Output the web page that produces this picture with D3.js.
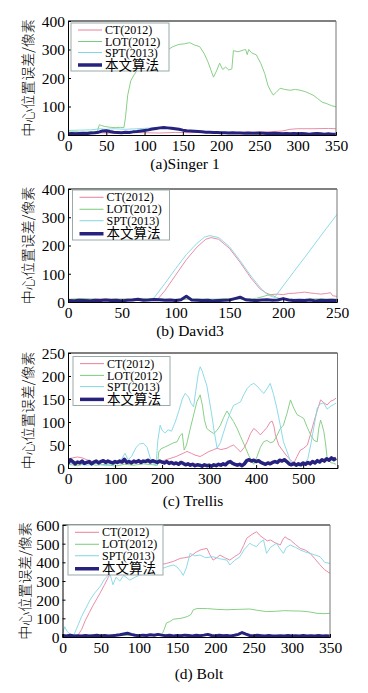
<!DOCTYPE html>
<html>
<head>
<meta charset="utf-8">
<script src="https://cdn.jsdelivr.net/npm/d3@7/dist/d3.min.js"></script>
<style>
	body { margin: 0; background: #fff; }
	svg { display: block; }
</style>
</head>
<body>
<svg id="chartArea" width="368" height="693"></svg>
<script>
// legend names
var methods = ["CT(2012)", "LOT(2012)", "SPT(2013)", "本文算法"];
var yLabel = "中心位置误差/像素";

// (a) Singer 1 : [frame, error]
var singerCT = [[0,8],[20,6],[40,8],[60,6],[80,9],[100,8],[120,7],[140,9],[160,8],[180,10],[200,8],[220,9],[240,10],[260,11],[280,14],[290,20],[300,22],[320,22],[340,23],[350,22]];
var singerLOT = [[0,10],[10,11],[20,9],[30,12],[38,11],[41,36],[44,33],[48,30],[55,27],[62,26],[68,27],[73,26],[75,60],[78,140],[82,190],[86,210],[95,245],[105,265],[115,280],[122,288],[130,298],[137,310],[145,318],[152,320],[159,324],[165,316],[172,310],[178,285],[183,255],[187,225],[190,203],[194,225],[198,252],[202,230],[206,238],[210,228],[214,232],[216,296],[222,292],[229,298],[232,300],[234,282],[236,300],[240,288],[246,281],[252,250],[257,215],[261,175],[264,158],[268,140],[272,150],[277,164],[283,160],[290,157],[297,160],[303,157],[310,152],[315,146],[320,140],[326,128],[332,115],[338,110],[344,103],[350,99]];
var singerSPT = [[0,16],[15,17],[30,18],[42,22],[50,20],[60,22],[75,20],[90,22],[105,24],[120,26],[135,24],[150,16],[170,12],[190,10],[220,9],[250,8],[280,8],[300,6],[320,5],[350,5]];
// ours, every 5 frames
var singerOurs = [4,5,4,5,6,5,7,8,10,14,15,12,10,9,8,10,9,11,12,14,16,18,21,23,25,26,25,24,22,20,17,15,14,13,12,11,10,10,9,9,8,8,7,8,7,7,6,7,6,6,7,6,5,5,6,5,4,5,4,5,4,5,4,3,4,5,4,3,4,3,3];

// (b) David3
var davidCT = [[0,8],[10,10],[20,9],[30,11],[40,10],[50,9],[60,11],[70,10],[80,9],[83,8],[90,40],[100,95],[110,150],[120,195],[128,222],[133,228],[140,222],[150,190],[160,140],[170,85],[178,48],[184,32],[188,26],[195,28],[200,26],[205,30],[210,31],[215,33],[220,35],[225,32],[230,30],[235,28],[240,30],[244,33],[246,22],[250,20]];
var davidLOT = [[0,10],[15,12],[30,9],[45,11],[60,10],[75,12],[90,10],[105,9],[120,11],[135,10],[150,12],[165,10],[175,13],[182,20],[186,25],[190,24],[194,15],[200,10],[215,9],[230,11],[250,10]];
var davidSPT = [[0,5],[20,6],[40,7],[60,6],[77,8],[80,15],[90,65],[100,118],[110,168],[120,208],[127,230],[132,235],[140,228],[150,196],[160,146],[170,92],[180,45],[186,24],[192,16],[200,57],[210,108],[220,158],[230,209],[240,260],[250,310]];
var davidOurs = [5,4,6,5,4,6,5,7,5,6,4,6,7,10,6,7,9,8,6,7,5,8,20,7,6,5,6,4,5,6,7,12,17,8,6,5,7,8,6,7,12,7,5,6,5,7,4,6,5,6,5];

// (c) Trellis
var trellisCT = [[0,20],[10,22],[20,24],[30,22],[40,18],[50,15],[60,13],[80,12],[100,10],[120,12],[140,11],[160,12],[180,13],[200,15],[215,20],[230,25],[245,32],[253,36],[262,32],[270,28],[281,25],[290,30],[298,35],[310,40],[317,43],[325,40],[338,43],[345,47],[352,50],[360,42],[367,35],[375,45],[381,57],[388,75],[395,86],[402,80],[409,72],[416,80],[423,88],[430,100],[434,102],[438,90],[441,72],[448,50],[455,40],[466,25],[473,18],[480,10],[487,25],[494,39],[500,42],[509,50],[516,75],[523,101],[530,125],[537,148],[544,142],[551,137],[558,145],[565,148],[570,152]];
var trellisLOT = [[0,8],[20,5],[40,10],[60,6],[80,8],[100,4],[120,8],[140,6],[160,9],[180,7],[190,6],[193,35],[198,42],[205,45],[215,50],[225,55],[232,57],[238,70],[243,75],[247,39],[252,50],[260,86],[267,115],[274,144],[281,159],[286,135],[290,105],[295,86],[302,80],[310,75],[317,82],[324,93],[331,110],[338,124],[345,112],[352,101],[360,85],[367,68],[375,50],[384,28],[390,15],[395,8],[402,25],[409,45],[416,57],[423,60],[430,55],[437,57],[444,70],[451,85],[458,93],[466,120],[473,148],[480,130],[487,116],[494,112],[501,108],[508,90],[516,72],[523,60],[530,57],[533,85],[537,104],[540,95],[544,79],[548,50],[551,20],[558,12],[565,10],[570,8]];
var trellisSPT = [[0,8],[20,12],[40,6],[60,10],[80,5],[100,8],[112,15],[121,32],[128,18],[135,25],[145,45],[152,52],[160,54],[168,45],[175,21],[182,8],[187,5],[191,60],[196,93],[200,82],[206,76],[213,83],[220,80],[228,100],[236,125],[243,150],[249,162],[256,155],[262,140],[267,133],[272,170],[277,205],[281,220],[285,212],[290,195],[295,180],[300,150],[305,120],[310,85],[317,43],[324,55],[330,75],[338,101],[345,120],[352,136],[360,140],[367,144],[374,160],[381,173],[388,180],[395,184],[402,178],[409,170],[416,162],[423,172],[430,184],[437,160],[444,130],[451,95],[458,57],[466,35],[473,14],[480,8],[490,5],[500,6],[510,20],[516,50],[523,90],[530,130],[537,140],[544,141],[551,128],[558,134],[565,138],[570,141]];
var trellisOurs = [10,18,14,9,13,11,15,10,12,14,9,13,15,11,14,16,12,15,13,11,14,12,15,13,19,12,14,11,15,13,16,12,15,14,17,13,16,14,12,15,13,11,14,10,12,9,11,8,12,10,7,9,6,8,5,7,6,4,7,5,6,4,7,5,8,6,9,7,12,14,10,8,6,8,5,9,16,18,15,17,14,16,12,10,8,11,9,12,14,12,17,15,18,14,9,7,10,6,9,7,11,8,12,9,14,11,16,13,18,15,20,17,22,18,21];

// (d) Bolt
var boltCT = [[0,12],[5,8],[10,15],[15,10],[20,8],[25,40],[30,90],[35,130],[40,170],[45,205],[49,234],[55,280],[60,320],[65,355],[75,341],[85,350],[101,359],[115,375],[125,385],[136,394],[145,405],[154,421],[160,425],[167,430],[175,455],[180,466],[189,475],[193,440],[197,412],[202,425],[206,439],[212,425],[219,412],[225,430],[232,448],[237,490],[241,529],[248,550],[254,564],[258,545],[263,529],[268,515],[272,520],[278,505],[285,493],[288,520],[291,537],[295,525],[298,520],[305,495],[311,475],[318,465],[324,448],[330,420],[337,386],[343,360],[350,341]];
var boltLOT = [[0,10],[20,8],[40,10],[60,9],[80,8],[100,10],[120,9],[130,12],[133,40],[136,75],[140,82],[145,95],[150,98],[155,100],[163,109],[168,120],[171,145],[176,153],[190,152],[202,148],[215,146],[230,148],[245,150],[255,143],[267,136],[280,138],[289,141],[300,140],[311,139],[322,135],[333,127],[342,125],[350,127]];
var boltSPT = [[0,20],[3,55],[6,30],[10,15],[15,12],[20,60],[25,110],[30,150],[36,198],[42,235],[49,269],[55,310],[62,341],[66,280],[70,320],[75,300],[80,330],[88,305],[95,320],[101,332],[110,340],[118,350],[125,360],[131,368],[138,378],[145,386],[150,375],[155,350],[158,330],[162,370],[167,448],[173,435],[180,439],[187,425],[197,430],[205,420],[215,412],[219,386],[225,410],[232,430],[238,470],[245,502],[250,490],[254,484],[258,505],[263,520],[267,448],[272,480],[280,502],[285,470],[289,448],[293,480],[298,493],[305,480],[311,466],[318,455],[324,448],[330,440],[337,430],[343,400],[350,394]];
var boltOurs = [8,6,9,5,7,6,8,5,7,9,6,8,5,7,9,12,16,20,14,9,7,10,8,12,9,14,10,7,9,6,8,7,10,8,6,9,7,10,14,8,6,9,7,8,6,9,14,24,15,8,6,9,7,5,8,6,5,7,6,8,5,7,6,8,5,7,6,8,6,7,6];

var colors = ["#e8809c", "#7acb7a", "#80d6e4", "#28227f"];
var serif = '"Liberation Serif", "DejaVu Serif", serif';
var cjk = '"Noto Sans CJK SC", sans-serif';

function every5(arr){
	return arr.map((v, i) => [i * 5, v]);
}

var panels = [
	{ left: 68, right: 336, top: 21, bottom: 135, xMax: 350, xTicks: d3.range(0, 351, 50), yMax: 400, yTicks: d3.range(0, 401, 100),
	  series: [singerCT, singerLOT, singerSPT, every5(singerOurs)], legend: [71, 23, 98, 48], title: "(a)Singer 1", tx: 185, ty: 169, lx: 28, ow: 3 },
	{ left: 68, right: 337, top: 189, bottom: 302, xMax: 250, xTicks: d3.range(0, 251, 50), yMax: 400, yTicks: d3.range(0, 401, 100),
	  series: [davidCT, davidLOT, davidSPT, every5(davidOurs)], legend: [72.5, 190, 97, 50], title: "(b) David3", tx: 190, ty: 336, lx: 28, ow: 3 },
	{ left: 68, right: 337.5, top: 353, bottom: 468, xMax: 573, xTicks: d3.range(0, 501, 100), yMax: 250, yTicks: d3.range(0, 251, 50),
	  series: [trellisCT, trellisLOT, trellisSPT, every5(trellisOurs)], legend: [73, 356.5, 97, 49], title: "(c) Trellis", tx: 193, ty: 506, lx: 28, ow: 3.5 },
	{ left: 62.5, right: 330, top: 525, bottom: 637, xMax: 350, xTicks: d3.range(0, 351, 50), yMax: 600, yTicks: d3.range(0, 601, 100),
	  series: [boltCT, boltLOT, boltSPT, every5(boltOurs)], legend: [68, 525, 95, 50], title: "(d) Bolt", tx: 199, ty: 679, lx: 25, ow: 3 }
];

var svg = d3.select('#chartArea');

panels.forEach((p, k) => drawPanel(p, k));

function drawPanel(p, k){
	var x = d3.scaleLinear().domain([0, p.xMax]).range([p.left, p.right]);
	var y = d3.scaleLinear().domain([0, p.yMax]).range([p.bottom, p.top]);

	var g = svg.append('g').classed('panel', true);

	g.append('clipPath')
		.attr('id', 'clip' + k)
	  .append('rect')
		.attr('x', p.left)
		.attr('y', p.top)
		.attr('width', p.right - p.left)
		.attr('height', p.bottom - p.top);

	var line = d3.line()
		.x(d => x(d[0]))
		.y(d => y(d[1]));

	//Data lines, ours on top
	g.append('g')
		.attr('clip-path', 'url(#clip' + k + ')')
		.selectAll('path')
		.data(p.series)
		.enter()
	  .append('path')
		.attr('d', line)
		.attr('fill', 'none')
		.attr('stroke', (d, i) => colors[i])
		.attr('stroke-width', (d, i) => i === 3 ? p.ow : 0.9)
		.attr('stroke-linejoin', 'round');

	//Frame: top and right edges
	g.append('line')
		.attr('x1', p.left).attr('x2', p.right)
		.attr('y1', p.top).attr('y2', p.top)
		.attr('stroke', '#000');
	g.append('line')
		.attr('x1', p.right).attr('x2', p.right)
		.attr('y1', p.top).attr('y2', p.bottom)
		.attr('stroke', '#777');

	//Axes with inward ticks
	var xAxis = d3.axisBottom(x).tickValues(p.xTicks).tickSize(-3).tickPadding(5);
	var yAxis = d3.axisLeft(y).tickValues(p.yTicks).tickSize(-3).tickPadding(3);

	g.append('g')
		.attr('transform', 'translate(0,' + p.bottom + ')')
		.call(xAxis)
		.call(a => a.selectAll('text')
			.style('font-family', serif)
			.style('font-size', '15.5px')
			.attr('fill', '#000'));
	g.append('g')
		.attr('transform', 'translate(' + p.left + ',0)')
		.call(yAxis)
		.call(a => a.selectAll('text')
			.style('font-family', serif)
			.style('font-size', '15.5px')
			.attr('fill', '#000')
			.attr('dy', '0.35em'));
	g.selectAll('.domain').attr('stroke', '#000');

	//Legend
	var lg = g.append('g')
		.attr('transform', 'translate(' + p.legend[0] + ',' + p.legend[1] + ')');
	lg.append('rect')
		.attr('width', p.legend[2])
		.attr('height', p.legend[3])
		.attr('fill', '#fff')
		.attr('stroke', '#9aa');
	var rowY = [7, 18.5, 29.5, 42].map(v => v * p.legend[3] / 48);
	methods.forEach((m, i) => {
		lg.append('line')
			.attr('x1', 7).attr('x2', 31)
			.attr('y1', rowY[i]).attr('y2', rowY[i])
			.attr('stroke', colors[i])
			.attr('stroke-width', i === 3 ? 3.5 : 1);
		lg.append('text')
			.attr('x', 34)
			.attr('y', rowY[i])
			.attr('dy', '0.35em')
			.style('font-family', i === 3 ? cjk : serif)
			.style('font-size', i === 3 ? '13.5px' : '12px')
			.text(m);
	});

	//Y label
	g.append('text')
		.attr('transform', 'translate(' + p.lx + ',' + ((p.top + p.bottom) / 2) + ') rotate(-90)')
		.attr('text-anchor', 'middle')
		.attr('dy', '0.35em')
		.style('font-family', cjk)
		.style('font-size', '14px')
		.style('font-weight', 300)
		.text(yLabel);

	//Sub title
	g.append('text')
		.attr('x', p.tx)
		.attr('y', p.ty)
		.attr('text-anchor', 'middle')
		.style('font-family', serif)
		.style('font-size', '15.5px')
		.text(p.title);
}
</script>
</body>
</html>
